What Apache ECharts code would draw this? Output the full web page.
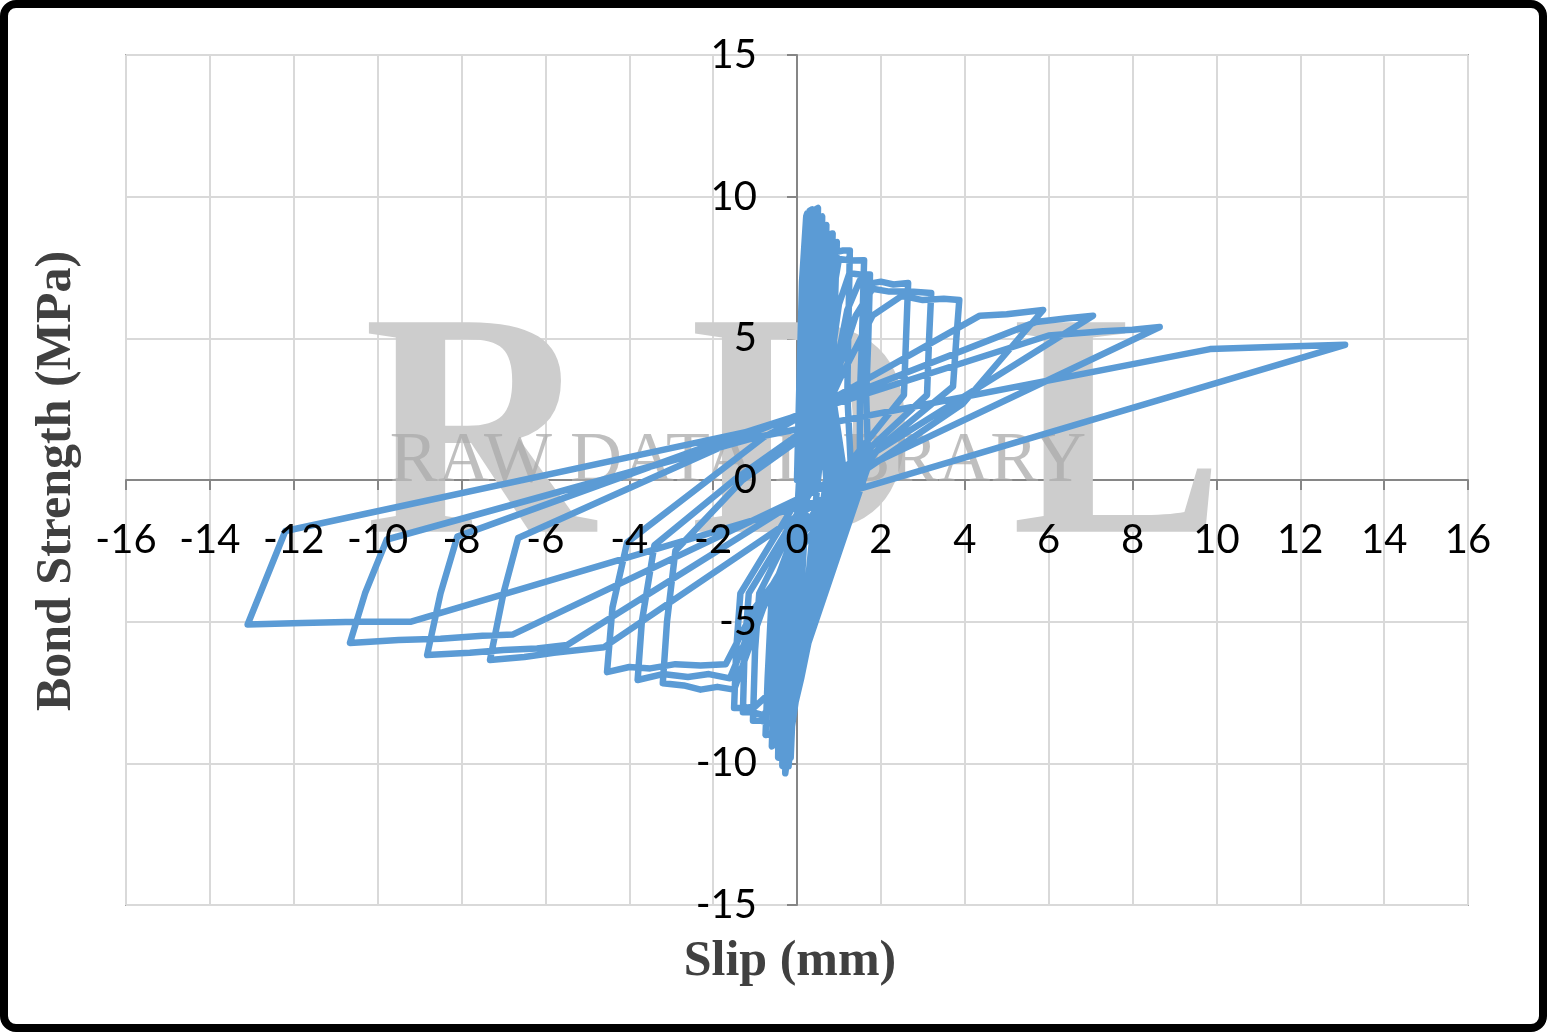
<!DOCTYPE html>
<html><head><meta charset="utf-8">
<script src="https://cdn.jsdelivr.net/npm/echarts@6/dist/echarts.min.js"></script>
<style>html,body{margin:0;padding:0;background:#fff}#c{width:1547px;height:1032px}</style>
</head><body><div id="c"></div><script>
// Axis settings (tick values)
const xTickMin = -16, xTickMax = 16, xTickStep = 2;
const yTickMin = -15, yTickMax = 15, yTickStep = 5;
const xTitle = 'Slip (mm)';
const yTitle = 'Bond Strength (MPa)';

// Hysteresis path, cycle by cycle: [slip (mm), bond strength (MPa)]
const cycle01 = [[0,0],[0.05,3],[0.12,7],[0.22,9.3],[0.24,9.4],[0.22,6],[0.2,3],[0.12,0],[-0.02,-4],[-0.1,-8],[-0.15,-9.8],[-0.13,-7],[-0.06,-3]];
const cycle02 = [[0.05,0],[0.15,3.5],[0.22,7],[0.3,9.5],[0.36,9.55],[0.33,6],[0.3,3],[0.25,0],[0.1,-4],[-0.1,-8],[-0.2,-10.1],[-0.17,-7],[-0.08,-3]];
const cycle03 = [[0.12,0],[0.25,3.5],[0.33,7.5],[0.38,9.5],[0.5,9.6],[0.47,6],[0.45,3],[0.5,0],[0.3,-3],[0.05,-7],[-0.2,-9.5],[-0.28,-10.35],[-0.25,-7],[-0.12,-3]];
const cycle04 = [[0.18,0],[0.3,3.5],[0.38,7.5],[0.45,9.2],[0.6,9.3],[0.58,6],[0.55,3],[0.7,0],[0.45,-2.5],[0.1,-6.5],[-0.25,-9.5],[-0.35,-10.1],[-0.32,-7],[-0.2,-3.5]];
const cycle05 = [[0.22,0],[0.35,3.5],[0.45,7.5],[0.5,8.9],[0.7,9.0],[0.66,6],[0.62,3],[0.85,0],[0.5,-3],[0.1,-7],[-0.3,-9.5],[-0.45,-9.8],[-0.42,-7],[-0.3,-3.5]];
const cycle06 = [[0.28,0],[0.42,3.5],[0.55,7.5],[0.6,8.6],[0.85,8.7],[0.8,6],[0.75,3],[1.0,0],[0.6,-3],[0.1,-7],[-0.4,-9.2],[-0.6,-9.4],[-0.55,-7],[-0.45,-4]];
const cycle07 = [[0.35,0],[0.5,3.5],[0.65,7.5],[0.72,8.3],[0.95,8.4],[0.9,6],[0.85,3],[1.15,0],[0.65,-3],[0.1,-7],[-0.5,-8.9],[-0.75,-9.0],[-0.7,-7],[-0.6,-4]];
const cycle08 = [[0.4,0],[0.6,3],[0.8,6.5],[0.95,8.05],[1.1,8.1],[1.26,8.1],[1.22,5],[1.2,3],[1.3,0],[0.7,-3],[0.1,-6.5],[-0.6,-8.6],[-0.85,-8.5],[-1.05,-8.5],[-1.0,-6],[-0.9,-4]];
const cycle09 = [[0.45,0],[0.65,3],[0.85,6.5],[1.0,7.8],[1.3,7.75],[1.6,7.76],[1.55,5],[1.5,3],[1.5,0.3],[0.8,-3],[0.1,-6.5],[-0.8,-8.3],[-1.05,-8.2],[-1.29,-8.2],[-1.25,-6],[-1.15,-4]];
const cycle10 = [[0.5,0],[0.7,3],[1.0,6.2],[1.25,7.3],[1.5,7.25],[1.74,7.25],[1.7,5],[1.65,3],[1.7,0.5],[0.9,-3],[0.1,-6.5],[-1.0,-8.0],[-1.3,-8.05],[-1.5,-8.05],[-1.45,-6],[-1.35,-4]];
const cycle11 = [[0.5,0.5],[0.8,3],[1.2,6],[1.5,7.05],[1.8,6.95],[2.0,7.0],[2.3,6.9],[2.65,6.95],[2.6,5],[2.55,3],[1.2,0.5],[0.0,-2],[-0.8,-4.5],[-1.5,-7.4],[-1.9,-7.3],[-2.3,-7.4],[-2.7,-7.25],[-3.2,-7.17],[-3.1,-5],[-2.9,-2.5]];
const cycle12 = [[-1.3,0],[0.6,2],[0.9,3.5],[1.4,5.8],[1.8,6.75],[2.2,6.65],[2.7,6.65],[3.2,6.6],[3.15,5],[3.1,3],[1.5,0.8],[0.1,-2],[-0.9,-4.5],[-1.6,-7.0],[-2.1,-6.85],[-2.6,-6.95],[-3.2,-6.85],[-3.8,-7.06],[-3.7,-5],[-3.4,-2.3]];
const cycle13 = [[-1.5,0],[0.6,2.2],[1.0,3.5],[1.8,5.8],[2.5,6.5],[3.0,6.35],[3.5,6.4],[3.87,6.35],[3.8,5],[3.72,3.3],[2.0,1.2],[0.3,-2],[-1.0,-4.5],[-1.7,-6.5],[-2.3,-6.55],[-2.9,-6.5],[-3.5,-6.65],[-4.0,-6.6],[-4.53,-6.78],[-4.4,-4.5],[-4.05,-2.2]];
const cycle14 = [[-0.8,1.5],[4.36,5.8],[5.0,5.85],[5.87,6.0],[3.96,2.7],[-4.6,-5.9],[-5.2,-6.0],[-5.8,-6.1],[-6.5,-6.25],[-7.32,-6.35],[-7.0,-4],[-6.65,-2.05]];
const cycle15 = [[-1.0,1.7],[5.7,5.58],[6.4,5.7],[7.06,5.8],[-5.48,-5.82],[-6.2,-5.95],[-7.0,-6.0],[-7.8,-6.1],[-8.82,-6.18],[-8.5,-4],[-8.1,-2.0]];
const cycle16 = [[-1.2,1.7],[6.0,5.1],[7.3,5.25],[8.0,5.3],[8.65,5.4],[-6.77,-5.45],[-7.5,-5.5],[-8.5,-5.6],[-9.5,-5.65],[-10.66,-5.75],[-10.3,-4],[-9.78,-2.1]];
const cycle17 = [[-1.0,1.5],[9.85,4.62],[11.5,4.7],[13.07,4.77],[-9.2,-5.0],[-10.5,-5.0],[-11.8,-5.05],[-13.1,-5.1],[-12.2,-1.8],[-1.2,1.7]];

const cycles = [cycle01,cycle02,cycle03,cycle04,cycle05,cycle06,cycle07,cycle08,cycle09,cycle10,cycle11,cycle12,cycle13,cycle14,cycle15,cycle16,cycle17];
const pathData = [].concat(...cycles);

const W = 1547, H = 1032;
const G = {left:126, right:79, top:55, bottom:127};
const gw = W - G.left - G.right, gh = H - G.top - G.bottom;
// move axes (with their labels) to the zero lines of the other axis
const xAxisOffset = -gh * (0 - yTickMin) / (yTickMax - yTickMin);
const yAxisOffset = -gw * (0 - xTickMin) / (xTickMax - xTickMin);

const chart = echarts.init(document.getElementById('c'), null, {renderer:'canvas'});
const tickFont = 'Lato';
const axisColor = '#868686';
function baseX(){ return {type:'value', gridIndex:0, min:xTickMin, max:xTickMax, interval:xTickStep, position:'bottom', offset:xAxisOffset}; }
function baseY(){ return {type:'value', gridIndex:0, min:yTickMin, max:yTickMax, interval:yTickStep, position:'left', offset:yAxisOffset}; }
chart.setOption({
  animation: false,
  backgroundColor: '#ffffff',
  grid: {left:G.left, right:G.right, top:G.top, bottom:G.bottom, show:true, borderColor:'#A6A6A6', borderWidth:2, backgroundColor:'transparent'},
  xAxis: [
    Object.assign(baseX(), {
      z:0,
      axisLine:{show:true, onZero:false, lineStyle:{color:axisColor, width:2}},
      axisTick:{show:true, length:10, lineStyle:{color:axisColor, width:2}},
      axisLabel:{show:false},
      splitLine:{show:true, lineStyle:{color:'#D9D9D9', width:2}}
    }),
    Object.assign(baseX(), {
      z:10,
      axisLine:{show:false, onZero:false}, axisTick:{show:false}, splitLine:{show:false},
      axisLabel:{fontSize:40, color:'#000', fontFamily:tickFont, margin:40, showMinLabel:true, showMaxLabel:true}
    })
  ],
  yAxis: [
    Object.assign(baseY(), {
      z:0,
      axisLine:{show:true, onZero:false, lineStyle:{color:axisColor, width:2}},
      axisTick:{show:true, length:10, lineStyle:{color:axisColor, width:2}},
      axisLabel:{show:false},
      splitLine:{show:true, lineStyle:{color:'#D9D9D9', width:2}}
    }),
    Object.assign(baseY(), {
      z:10,
      axisLine:{show:false, onZero:false}, axisTick:{show:false}, splitLine:{show:false},
      axisLabel:{fontSize:40, color:'#000', fontFamily:tickFont, margin:40, showMinLabel:true, showMaxLabel:true}
    })
  ],
  graphic: [
    {type:'text', z:1, x:479, y:449, style:{text:'R', font:'bold 320px "Liberation Serif"', fill:'#cdcdcd', textAlign:'center', textVerticalAlign:'middle'}},
    {type:'text', z:1, x:805, y:449, style:{text:'D', font:'bold 320px "Liberation Serif"', fill:'#cdcdcd', textAlign:'center', textVerticalAlign:'middle'}},
    {type:'text', z:1, x:1118, y:449, style:{text:'L', font:'bold 320px "Liberation Serif"', fill:'#cdcdcd', textAlign:'center', textVerticalAlign:'middle'}},
    {type:'text', z:1, x:738, y:462, style:{text:'RAW DATA LIBRARY', font:'72px "Liberation Serif"', fill:'rgba(170,170,170,0.75)', textAlign:'center', textVerticalAlign:'middle'}},
    {type:'text', z:5, x:790, y:962, style:{text:xTitle, font:'bold 50px "Liberation Serif"', fill:'#404040', textAlign:'center', textVerticalAlign:'middle'}},
    {type:'text', z:5, x:57, y:481, rotation:Math.PI/2, style:{text:yTitle, font:'bold 50px "Liberation Serif"', fill:'#404040', textAlign:'center', textVerticalAlign:'middle'}},
    {type:'rect', z:100, shape:{x:4, y:4, width:1539, height:1024, r:12}, style:{fill:'none', stroke:'#000', lineWidth:8}}
  ],
  series: [{
    type:'line', xAxisIndex:0, yAxisIndex:0, data:pathData, showSymbol:false, symbol:'none', smooth:false,
    lineStyle:{color:'#5B9BD5', width:6.5, join:'round', cap:'round'}, z:3
  }]
});
</script></body></html>
